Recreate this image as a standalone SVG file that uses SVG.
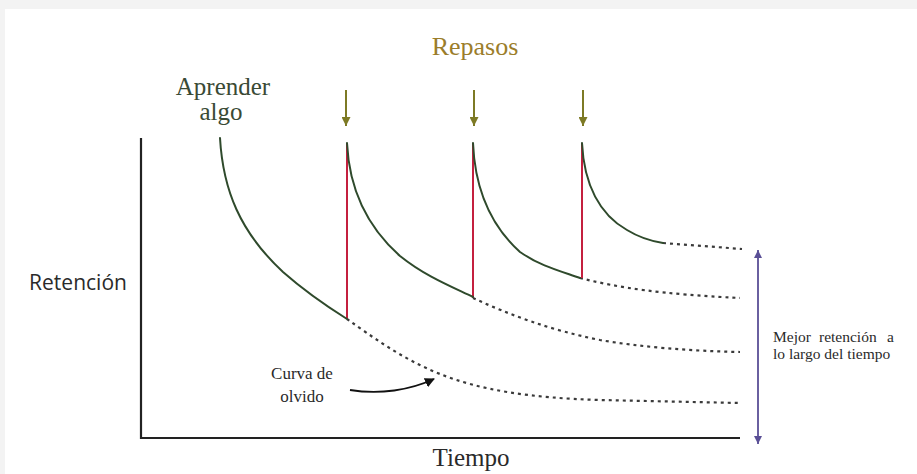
<svg xmlns="http://www.w3.org/2000/svg" width="917" height="474" viewBox="0 0 917 474">
<style>
.serif{font-family:"Liberation Serif","DejaVu Serif",serif;fill:#2a2a2a}
.sans{font-family:"Open Sans","Noto Sans",sans-serif;fill:#2a2a2a}
.curve{fill:none;stroke:#2f4a2c;stroke-width:2;stroke-linecap:round}
.rev{fill:none;stroke:#c4203f;stroke-width:2}
.dot{fill:none;stroke:#3a3a3a;stroke-width:2.2;stroke-dasharray:3 4}
.axis{fill:none;stroke:#222;stroke-width:2.2}
.cue{stroke:#7d7a25;stroke-width:2}
</style>
<defs>
<marker id="cueHead" viewBox="0 0 10 10" refX="10" refY="5" markerWidth="11" markerHeight="9" markerUnits="userSpaceOnUse" orient="auto-start-reverse">
<path d="M0,0 L10,5 L0,10 Z" fill="#7d7a25"/>
</marker>
<marker id="purpleHead" viewBox="0 0 10 10" refX="10" refY="5" markerWidth="10" markerHeight="8" markerUnits="userSpaceOnUse" orient="auto-start-reverse">
<path d="M0,0 L10,5 L0,10 Z" fill="#5a4f96"/>
</marker>
<marker id="blackHead" viewBox="0 0 10 10" refX="9" refY="5" markerWidth="10" markerHeight="10" markerUnits="userSpaceOnUse" orient="auto">
<path d="M0,0 L10,5 L0,10 Z" fill="#111"/>
</marker>
</defs>
<rect x="0" y="0" width="917" height="474" fill="#f3f3f3"/>
<rect x="5" y="9" width="912" height="465" fill="#ffffff"/>

<g id="axes">
<path class="axis" d="M141,138 V438 H740"/>
</g>

<g id="label-retencion"><text class="sans" x="78" y="290" font-size="21" text-anchor="middle">Retención</text></g>
<g id="label-tiempo"><text class="serif" x="471" y="466" font-size="25" text-anchor="middle">Tiempo</text></g>
<g id="label-repasos"><text class="serif" x="475" y="55" font-size="26" text-anchor="middle" style="fill:#9b7d2a">Repasos</text></g>
<g id="label-aprender"><text class="serif" x="223" y="95" font-size="25" text-anchor="middle" style="fill:#3a4a35">Aprender</text><text class="serif" x="221" y="120" font-size="25" text-anchor="middle" style="fill:#3a4a35">algo</text></g>
<g id="label-curva"><text class="serif" x="302" y="379" font-size="17" text-anchor="middle">Curva de</text><text class="serif" x="302" y="402" font-size="17" text-anchor="middle">olvido</text></g>
<g id="label-mejor"><text class="serif" y="342" font-size="15.5"><tspan x="773">Mejor</tspan><tspan x="819">retención</tspan><tspan x="887">a</tspan></text><text class="serif" x="773" y="359" font-size="15.5">lo largo del tiempo</text></g>

<g id="connectors">
<line class="cue" x1="346" y1="90" x2="346" y2="126" marker-end="url(#cueHead)"/>
<line class="cue" x1="474" y1="90" x2="474" y2="126" marker-end="url(#cueHead)"/>
<line class="cue" x1="583" y1="90" x2="583" y2="126" marker-end="url(#cueHead)"/>

<path class="dot" d="M347,319 C370,335 400,358 440,374 C480,390 530,398 600,400 L740,403"/>
<path class="dot" d="M473,298 C510,315 550,330 600,340 C640,347 690,351 740,352"/>
<path class="dot" d="M580,278 C620,288 660,294 740,298"/>
<path class="dot" d="M663,243 L742,249"/>

<line class="rev" x1="347" y1="143" x2="347" y2="319"/>
<line class="rev" x1="473" y1="143" x2="473" y2="298"/>
<line class="rev" x1="582" y1="143" x2="582" y2="278"/>

<path class="curve" d="M220,138 C223,190 240,232 283,272 C300,287 320,302 347,319"/>
<path class="curve" d="M347,143 C349,185 365,225 400,256 C425,276 450,286 473,297"/>
<path class="curve" d="M473,143 C475,190 490,225 520,252 C540,266 560,271 580,278"/>
<path class="curve" d="M582,143 C584,185 600,215 627,230 C640,238 650,241 663,243"/>

<line x1="758" y1="250" x2="758" y2="444" stroke="#5a4f96" stroke-width="1.8" marker-start="url(#purpleHead)" marker-end="url(#purpleHead)"/>

<path d="M350,390 C380,395 410,390 434,379" fill="none" stroke="#111" stroke-width="1.8" marker-end="url(#blackHead)"/>
</g>
</svg>
